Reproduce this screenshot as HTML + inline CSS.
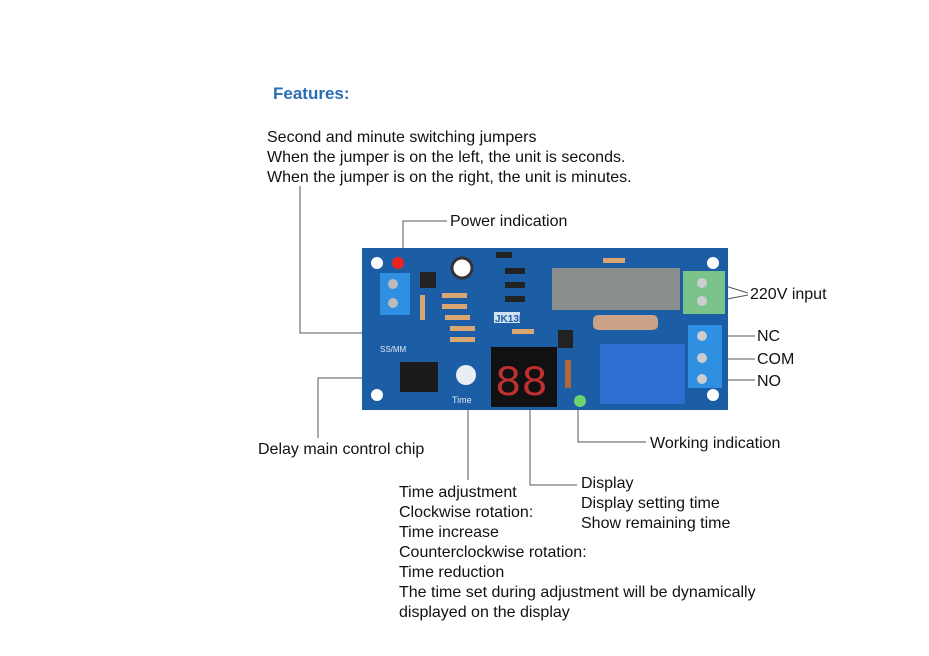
<!DOCTYPE html>
<html><head><meta charset="utf-8"><style>
html,body{margin:0;padding:0;background:#fff}
svg{display:block}
text{font-family:"Liberation Sans",Arial,sans-serif;fill:#111}
</style></head><body>
<svg width="929" height="656" viewBox="0 0 929 656" xmlns="http://www.w3.org/2000/svg">
<rect width="929" height="656" fill="#fff"/>
<text x="273" y="99" font-size="17" font-weight="bold" style="fill:#2a6db5">Features:</text>
<g font-size="16">
<text x="267" y="142">Second and minute switching jumpers</text>
<text x="267" y="162">When the jumper is on the left, the unit is seconds.</text>
<text x="267" y="182">When the jumper is on the right, the unit is minutes.</text>
<text x="450" y="226">Power indication</text>
<text x="750" y="299">220V input</text>
<text x="757" y="341">NC</text>
<text x="757" y="364">COM</text>
<text x="757" y="386">NO</text>
<text x="258" y="454">Delay main control chip</text>
<text x="650" y="448">Working indication</text>
<text x="581" y="488">Display</text>
<text x="581" y="508">Display setting time</text>
<text x="581" y="528">Show remaining time</text>
<text x="399" y="497">Time adjustment</text>
<text x="399" y="517">Clockwise rotation:</text>
<text x="399" y="537">Time increase</text>
<text x="399" y="557">Counterclockwise rotation:</text>
<text x="399" y="577">Time reduction</text>
<text x="399" y="597">The time set during adjustment will be dynamically</text>
<text x="399" y="617">displayed on the display</text>
</g>
<g stroke="#555" stroke-width="1" fill="none">
<polyline points="403,258 403,221 447,221"/>
<polyline points="300,186 300,333 372,333"/>
<polyline points="380,378 318,378 318,438"/>
<polyline points="468,405 468,480"/>
<polyline points="530,410 530,485 577,485"/>
<polyline points="578,405 578,442 646,442"/>
<polyline points="722,285 748,293"/>
<polyline points="722,300 748,295"/>
<polyline points="718,336 755,336"/>
<polyline points="718,359 755,359"/>
<polyline points="718,380 755,380"/>
</g>
<rect x="362" y="248" width="366" height="162" fill="#1c5ea6"/>
<g fill="#fff">
<circle cx="377" cy="263" r="6"/><circle cx="713" cy="263" r="6"/>
<circle cx="377" cy="395" r="6"/><circle cx="713" cy="395" r="6"/>
</g>
<rect x="380" y="273" width="30" height="42" fill="#2f8fe0"/>
<circle cx="393" cy="284" r="5" fill="#bbb"/><circle cx="393" cy="303" r="5" fill="#bbb"/>
<circle cx="398" cy="263" r="6" fill="#e22"/>
<circle cx="462" cy="268" r="10" fill="#fff" stroke="#333" stroke-width="3"/>
<g fill="#d9a673">
<rect x="442" y="293" width="25" height="5"/><rect x="442" y="304" width="25" height="5"/>
<rect x="445" y="315" width="25" height="5"/><rect x="450" y="326" width="25" height="5"/>
<rect x="450" y="337" width="25" height="5"/><rect x="512" y="329" width="22" height="5"/>
<rect x="603" y="258" width="22" height="5"/><rect x="420" y="295" width="5" height="25"/>
</g>
<g fill="#222">
<rect x="496" y="252" width="16" height="6"/><rect x="505" y="268" width="20" height="6"/>
<rect x="505" y="282" width="20" height="6"/><rect x="505" y="296" width="20" height="6"/>
<rect x="420" y="272" width="16" height="16"/>
<rect x="558" y="330" width="15" height="18"/>
</g>
<rect x="552" y="268" width="128" height="42" fill="#8a8e8c"/>
<rect x="593" y="315" width="65" height="15" rx="5" fill="#c9a288"/>
<rect x="683" y="271" width="42" height="43" fill="#7ac38a"/>
<circle cx="702" cy="283" r="5" fill="#ccc"/><circle cx="702" cy="301" r="5" fill="#ccc"/>
<rect x="688" y="325" width="34" height="63" fill="#2f8fe0"/>
<circle cx="702" cy="336" r="5" fill="#ccc"/><circle cx="702" cy="358" r="5" fill="#ccc"/><circle cx="702" cy="379" r="5" fill="#ccc"/>
<rect x="600" y="344" width="85" height="60" fill="#2c6fd0"/>
<rect x="494" y="312" width="26" height="11" fill="#cfe0f2"/>
<text x="495" y="322" font-size="10" font-weight="bold" style="fill:#1c5ea6">JK13P</text>
<rect x="400" y="362" width="38" height="30" fill="#1a1a1a"/>
<circle cx="466" cy="375" r="10" fill="#e8eef4"/>
<text x="452" y="403" font-size="9" style="fill:#dfe8f3">Time</text>
<rect x="491" y="347" width="66" height="60" fill="#111"/>
<text x="495" y="395" font-size="44" style="fill:#c03030;font-family:'Liberation Mono',monospace">88</text>
<circle cx="580" cy="401" r="6" fill="#6cd46c"/>
<rect x="565" y="360" width="6" height="28" fill="#b0673a"/>
<text x="380" y="352" font-size="8" style="fill:#dfe8f3">SS/MM</text>
</svg>
</body></html>
